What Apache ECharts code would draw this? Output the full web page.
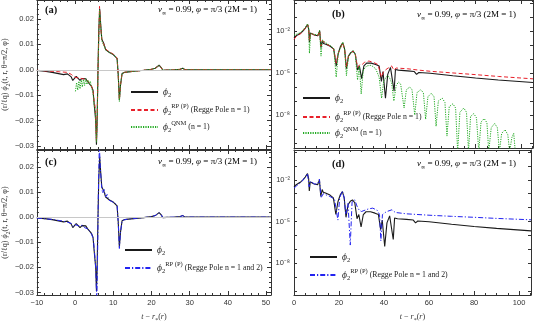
<!DOCTYPE html>
<html><head><meta charset="utf-8">
<script src="https://cdn.jsdelivr.net/npm/echarts@6/dist/echarts.min.js"></script>
<style>html,body{margin:0;padding:0;background:#fff}#c{width:534px;height:325px}</style>
</head><body><div id="c"></div>
<script>
// ---------- DATA ----------
// linear panels (a),(c): [t - r*, (r/lq) phi2]
const phi2Lin = [[-10,-0.0003],[-8,-0.0006],[-6,-0.0010],[-4,-0.0016],[-3,-0.0019],[-2.5,-0.0020],[-2,-0.0016],[-1.5,-0.0017],[-1,-0.0028],[-0.6,-0.0042],[-0.2,-0.0035],[0.3,-0.0026],[0.8,-0.0030],[1.3,-0.0042],[1.8,-0.0034],[2.3,-0.0040],[2.8,-0.0035],[3.3,-0.0047],[3.8,-0.0042],[4.3,-0.0065],[4.7,-0.0080],[5.0,-0.0135],[5.2,-0.0130],[5.4,-0.0200],[5.6,-0.0295],[5.75,-0.022],[6.0,0.0],[6.2,0.015],[6.45,0.0240],[6.7,0.018],[7.0,0.012],[7.5,0.0105],[8.0,0.0080],[8.5,0.0075],[9,0.0068],[9.5,0.0065],[10,0.0060],[10.5,0.0055],[11,0.0045],[11.3,-0.002],[11.6,-0.0120],[11.9,-0.006],[12.3,-0.0015],[13,-0.0010],[14,-0.0008],[16,-0.0005],[18,-0.0002],[20,0.0002],[21,0.0006],[22,0.0018],[22.5,0.0010],[23,-0.0002],[24,-0.0001],[26,0.0],[27.5,0.0002],[28.2,0.0006],[28.8,0.0],[30,0.0],[40,0.0],[51.3,0.0]];
const rp1Lin = [[-10,-0.0002],[-6,-0.0006],[-4,-0.0008],[-2,-0.0010],[-1,-0.0018],[0,-0.0030],[1,-0.0032],[2,-0.0035],[3,-0.0040],[4,-0.0055],[4.7,-0.0080],[5.0,-0.0125],[5.3,-0.0150],[5.6,-0.0280],[5.8,-0.018],[6.0,0.0],[6.4,0.0250],[6.7,0.017],[7.0,0.012],[8,0.0082],[9,0.0070],[10,0.0062],[11,0.0046],[11.3,-0.002],[11.6,-0.0118],[11.9,-0.006],[12.3,-0.0015],[13,-0.0010],[14,-0.0008],[16,-0.0005],[18,-0.0002],[20,0.0002],[21,0.0006],[22,0.0018],[22.5,0.0010],[23,-0.0002],[24,-0.0001],[26,0.0],[27.5,0.0002],[28.2,0.0006],[28.8,0.0],[30,0.0],[40,0.0],[51.3,0.0]];
const qnm1Lin = [[0.1,-0.0085],[0.4,-0.0050],[0.7,-0.0080],[1.0,-0.0045],[1.3,-0.0075],[1.6,-0.0040],[1.9,-0.0068],[2.2,-0.0038],[2.5,-0.0062],[2.8,-0.0035],[3.1,-0.0058],[3.4,-0.0040],[3.7,-0.0055],[4.0,-0.0045],[4.3,-0.0070],[4.7,-0.0090],[5.0,-0.0140],[5.3,-0.0160],[5.6,-0.0285],[5.8,-0.020],[6.0,0.0],[6.4,0.0235],[6.7,0.018],[7.0,0.0115],[8,0.0078],[9,0.0068],[10,0.0060],[11,0.0045],[11.3,-0.002],[11.6,-0.0125],[11.9,-0.006],[12.3,-0.0015],[13,-0.0010],[14,-0.0008],[16,-0.0005],[18,-0.0002],[20,0.0002],[21,0.0006],[22,0.0018],[22.5,0.0010],[23,-0.0002],[24,-0.0001],[26,0.0],[27.5,0.0002],[28.2,0.0006],[28.8,0.0],[30,0.0],[40,0.0],[51.3,0.0]];
const rp12Lin = [[-10,-0.0004],[-6,-0.0009],[-4,-0.0014],[-2.5,-0.0018],[-2,-0.0012],[-1,-0.0025],[-0.5,-0.0038],[0,-0.0030],[0.5,-0.0025],[1,-0.0035],[1.5,-0.0040],[2,-0.0032],[2.5,-0.0042],[3,-0.0036],[3.5,-0.0048],[4,-0.0045],[4.4,-0.0070],[4.8,-0.0090],[5.1,-0.0140],[5.4,-0.0200],[5.7,-0.0340],[5.9,-0.015],[6.1,0.010],[6.35,0.0285],[6.6,0.020],[6.9,0.013],[7.2,0.0095],[7.6,0.0110],[8.0,0.0080],[8.4,0.0090],[8.8,0.0068],[9.2,0.0075],[9.6,0.0062],[10,0.0065],[10.5,0.0055],[11,0.0047],[11.3,-0.002],[11.6,-0.0125],[11.9,-0.006],[12.3,-0.0015],[13,-0.0010],[14,-0.0008],[16,-0.0005],[18,-0.0002],[20,0.0002],[21,0.0006],[22,0.0018],[22.5,0.0010],[23,-0.0002],[24,-0.0001],[26,0.0],[27.5,0.0002],[28.2,0.0006],[28.8,0.0],[30,0.0],[40,0.0],[51.3,0.0]];
// log panels (b),(d): [t - r*, log10 |phi2|]
const phi2Log = [[0,-2.5],[1,-2.35],[2,-2.25],[3,-2.15],[4,-2.0],[5,-1.8],[6,-1.55],[6.5,-1.9],[6.8,-2.8],[7.2,-2.15],[8,-2.2],[9,-2.3],[10.5,-2.35],[11.3,-2.0],[11.9,-3.2],[12.5,-2.7],[13,-2.9],[14,-2.95],[16,-3.1],[17.5,-3.3],[18.6,-4.5],[19.5,-3.6],[20.5,-3.1],[21.5,-2.85],[22.3,-3.3],[23.1,-4.7],[24,-3.8],[25,-3.55],[26,-3.45],[27,-3.65],[28,-4.8],[28.8,-4.5],[29.8,-5.4],[30.8,-4.5],[32,-4.3],[34,-4.3],[36,-4.4],[37.5,-4.5],[38.5,-5.6],[39.2,-4.9],[40.3,-6.8],[41.3,-5.1],[42.5,-4.6],[43.3,-4.55],[44.1,-6.3],[44.7,-4.75],[46,-4.8],[50,-4.85],[53,-4.9],[54,-5.1],[55,-4.97],[60,-5.02],[70,-5.2],[80,-5.36],[90,-5.5],[105.3,-5.68]];
const rp1Log = [[0,-2.6],[1,-2.4],[3,-2.2],[5,-1.8],[6,-1.55],[6.5,-1.9],[6.8,-2.7],[7.2,-2.15],[9,-2.3],[10.5,-2.35],[11.3,-2.0],[11.9,-3.1],[12.5,-2.7],[14,-2.9],[16,-3.1],[17.5,-3.3],[18.6,-4.3],[19.5,-3.6],[21.5,-2.85],[22.3,-3.3],[23.1,-4.6],[24,-3.8],[26,-3.45],[27,-3.65],[28,-4.6],[29,-4.4],[30,-4.4],[31,-4.25],[33,-4.15],[35,-4.25],[37,-4.4],[38.5,-5.3],[39.5,-4.9],[41,-4.7],[43,-4.5],[44,-4.8],[45,-4.65],[50,-4.7],[55,-4.8],[60,-4.88],[70,-5.0],[80,-5.12],[90,-5.25],[105.3,-5.42]];
const qnm1Log = [[0,-2.3],[1,-2.25],[3,-2.1],[5,-1.75],[6,-1.5],[6.5,-1.85],[6.8,-3.6],[7.3,-2.2],[9,-2.25],[10.5,-2.3],[11.3,-1.95],[11.9,-3.8],[12.5,-2.65],[14,-2.85],[16,-3.05],[17.5,-3.25],[18.6,-5.3],[19.5,-3.6],[21.5,-2.8],[22.3,-3.3],[23.1,-5.2],[24,-3.8],[26,-3.4],[27,-3.7],[28,-5.5],[28.8,-4.5],[29.6,-6.5],[30.5,-4.8],[32,-4.5],[34,-4.45],[36,-4.7],[37.5,-5.3],[38.6,-6.8],[39.5,-5.6],[41,-5.2],[42,-5.3],[43,-5.7],[44,-7.0],[45,-5.9],[46,-5.65],[47,-5.8],[48.5,-7.5],[49.5,-6.2],[51,-6.0],[52,-6.2],[53.2,-8.0],[54.2,-6.4],[55.8,-6.2],[57,-6.4],[58,-8.3],[59,-6.7],[60.5,-6.45],[61.7,-6.7],[62.6,-8.8],[63.6,-7.0],[65.3,-6.8],[66.5,-7.1],[67.4,-9.5],[68.4,-7.4],[70,-7.2],[71.2,-7.5],[72.1,-10.6],[73.1,-7.8],[74.8,-7.5],[76,-7.8],[76.9,-10.6],[77.8,-8.1],[79.2,-7.9],[80.4,-8.2],[81.4,-10.6],[82.4,-8.5],[83.8,-8.25],[85,-8.55],[85.8,-10.6],[86.9,-8.9],[88.4,-8.6],[89.6,-8.9],[90.5,-10.6],[91.5,-9.3],[93,-9.05],[94.2,-9.4],[95,-10.6],[96,-9.6],[96.8,-9.3],[97.5,-10.6]];
const rp12Log = [[0,-2.6],[1,-2.45],[3,-2.2],[5,-1.8],[6,-1.55],[6.7,-2.5],[7.5,-2.1],[9,-2.3],[10.5,-2.3],[11.3,-1.95],[12,-3.3],[13,-3.0],[16,-3.2],[18,-3.4],[19.5,-4.9],[20.3,-3.3],[21.5,-2.8],[22.3,-3.3],[23,-4.5],[24,-3.7],[25,-6.7],[25.8,-3.6],[27,-3.44],[28,-3.9],[29,-4.2],[30,-4.28],[33,-4.1],[35,-4.04],[37,-4.2],[38,-4.5],[38.6,-6.4],[39.3,-4.5],[41,-4.3],[43.5,-4.16],[45,-4.35],[50,-4.45],[60,-4.55],[70,-4.63],[80,-4.7],[90,-4.78],[105.3,-4.88]];
// tick labels
const linYTicks = [-0.03,-0.02,-0.01,0,0.01,0.02];
const logYTicks = [-2,-5,-8];
const logYLabels = ['10⁻²','10⁻⁵','10⁻⁸'];

// ---------- CHART ----------
const TICKF = 'Liberation Sans', TXTF = 'Liberation Serif';
const grids = [
  {left:32, top:0, width:239, height:149},
  {left:32, top:150, width:239, height:145},
  {left:294, top:0, width:239, height:148},
  {left:294, top:150, width:239, height:145}
];
const ax = {color:'#333', width:1};
function isMult(v, step){ return Math.abs(v/step - Math.round(v/step)) < 1e-6; }
function minus(s){ return s.replace('-', '−'); }
function xAx(g, pos, min, max, interval, minorSplit, labels){
  return {type:'value', gridIndex:g, position:pos, min, max, interval,
    axisLine:{show:true, onZero:false, lineStyle:ax},
    axisTick:{show:true, inside:true, length:4, lineStyle:ax},
    minorTick:{show:true, splitNumber:minorSplit, length:2, lineStyle:ax},
    splitLine:{show:false},
    axisLabel:{show:labels, fontSize:7.5, color:'#333', fontFamily:TICKF, margin:4,
      formatter:v=> isMult(v, interval) ? minus(String(Math.round(v))) : ''}};
}
function yLin(g, pos, min, max, labels){
  return {type:'value', gridIndex:g, position:pos, min, max, splitNumber:6,
    axisLine:{show:true, onZero:false, lineStyle:ax},
    axisTick:{show:true, inside:true, length:4, lineStyle:ax},
    minorTick:{show:true, splitNumber:5, length:2, lineStyle:ax},
    splitLine:{show:false},
    axisLabel:{show:labels, fontSize:7.5, color:'#333', fontFamily:TICKF, margin:3, showMinLabel:true, showMaxLabel:true,
      formatter:v=>{ const k = linYTicks.findIndex(t=>Math.abs(t-v)<1e-7); return k<0?'':minus(linYTicks[k].toFixed(2)); }}};
}
function yLog(g, pos, min, max, labels){
  return {type:'value', gridIndex:g, position:pos, min, max, splitNumber:10,
    axisLine:{show:true, onZero:false, lineStyle:ax},
    axisTick:{show:true, inside:true, length:3, lineStyle:ax},
    minorTick:{show:false},
    splitLine:{show:false},
    axisLabel:{show:labels, fontSize:7.5, color:'#333', fontFamily:TICKF, margin:4,
      formatter:v=>{ const k = logYTicks.findIndex(t=>Math.abs(t-v)<1e-6); return k<0?'':logYLabels[k]; }}};
}
const xAxis = [
  xAx(0,'bottom',-10,51.3,10,5,false), xAx(0,'top',-10,51.3,10,5,false),
  xAx(1,'bottom',-10,51.3,10,5,true),  xAx(1,'top',-10,51.3,10,5,false),
  xAx(2,'bottom',0,105.3,20,4,false),  xAx(2,'top',0,105.3,20,4,false),
  xAx(3,'bottom',0,105.3,20,4,true),   xAx(3,'top',0,105.3,20,4,false)
];
const yAxis = [
  yLin(0,'left',-0.0312,0.0275,true), yLin(0,'right',-0.0312,0.0275,false),
  yLin(1,'left',-0.031,0.0267,true),  yLin(1,'right',-0.031,0.0267,false),
  yLog(2,'left',-10.35,0.2,true),     yLog(2,'right',-10.35,0.2,false),
  yLog(3,'left',-10.3,0.15,true),     yLog(3,'right',-10.3,0.15,false)
];
const richY = {n:{fontFamily:TXTF,fontSize:8,color:'#333'}, i:{fontFamily:TXTF,fontSize:8,fontStyle:'italic',color:'#333'}, s:{fontFamily:TXTF,fontSize:6,color:'#333',verticalAlign:'bottom',lineHeight:12}};
const yName = '{n|(r/ℓq) }{i|ϕ}{s|2}{n|(t, r, θ=π/2, φ)}';
[0,2].forEach(k=>Object.assign(yAxis[k], {name:yName, nameLocation:'middle', nameGap:21, nameRotate:90, nameTextStyle:{rich:richY}}));
const xName = '{i|t}{n| − }{i|r}{s|*}{n|(}{i|r}{n|)}';
[2,6].forEach(k=>Object.assign(xAxis[k], {name:xName, nameLocation:'middle', nameGap:16, nameTextStyle:{rich:richY}}));

const sty = {
  phi2:{color:'#1a1a1a', width:1.1, type:'solid'},
  rp1:{color:'#e8202a', width:1, type:[4,2.5]},
  qnm1:{color:'#22aa22', width:1, type:[1.2,1.2]},
  rp12:{color:'#2323f0', width:1, type:[5,2,1.2,2]}
};
function ser(name, data, g, z){
  return {type:'line', name, data, xAxisIndex:[0,2,4,6][g], yAxisIndex:[0,2,4,6][g],
    symbol:'none', showSymbol:false, clip:true, z, lineStyle:sty[name], itemStyle:{color:sty[name].color, opacity:0}, animation:false};
}
const zeroLine = g => ({type:'line', name:'zero'+g, data:[], xAxisIndex:[0,2][g], yAxisIndex:[0,2][g], z:1,
  markLine:{silent:true, symbol:'none', animation:false, label:{show:false}, lineStyle:{color:'#c8c8c8', width:1, type:'solid'}, data:[{yAxis:0}]}});
const series = [
  zeroLine(0), zeroLine(1),
  ser('phi2', phi2Lin, 0, 2), ser('rp1', rp1Lin, 0, 3), ser('qnm1', qnm1Lin, 0, 4),
  ser('phi2', phi2Lin, 1, 2), ser('rp12', rp12Lin, 1, 3),
  ser('phi2', phi2Log, 2, 2), ser('rp1', rp1Log, 2, 3), ser('qnm1', qnm1Log, 2, 4),
  ser('phi2', phi2Log, 3, 2), ser('rp12', rp12Log, 3, 3)
];
const legText = {
  phi2:'{i|ϕ}{sb|2}',
  rp1:'{i|ϕ}{sb|2}{sp|RP (P)}{n| (Regge Pole n = 1)}',
  qnm1:'{i|ϕ}{sb|2}{sp|QNM}{n| (n = 1)}',
  rp12:'{i|ϕ}{sb|2}{sp|RP (P)}{n| (Regge Pole n = 1 and 2)}'
};
const richL = {n:{fontFamily:TXTF,fontSize:7.8,color:'#222',lineHeight:14}, i:{fontFamily:TXTF,fontSize:9.5,fontStyle:'italic',color:'#222',lineHeight:14},
  sb:{fontFamily:TXTF,fontSize:6.5,color:'#222',verticalAlign:'bottom',lineHeight:14}, sp:{fontFamily:TXTF,fontSize:6.5,color:'#222',verticalAlign:'top',lineHeight:14}};
function leg(name, x, cy){
  return {show:true, data:[name], left:x, top:cy-7, orient:'vertical', padding:0, itemWidth:27, itemHeight:8, itemGap:0,
    selectedMode:false, formatter:n=>legText[n], textStyle:{rich:richL, padding:[0,0,0,0]}};
}
const legend = [
  leg('phi2',130,94), leg('rp1',130,110), leg('qnm1',130,127),
  leg('phi2',302,100), leg('rp1',302,117), leg('qnm1',302,133),
  leg('phi2',124,252), leg('rp12',124,268),
  leg('phi2',309,259), leg('rp12',309,275)
];
const richA = {n:{fontFamily:TXTF,fontSize:9,color:'#222'}, i:{fontFamily:TXTF,fontSize:9,fontStyle:'italic',color:'#222'}, s:{fontFamily:TXTF,fontSize:6,color:'#222',verticalAlign:'bottom',lineHeight:13}};
const annot = '{i|v}{s|∞}{n| = 0.99, }{i|φ}{n| = π/3 (2M = 1)}';
const graphic = [
  {type:'text', x:45, y:10, style:{text:'(a)', font:'bold 10.5px "Liberation Serif"', fill:'#111', align:'left', verticalAlign:'middle'}},
  {type:'text', x:332, y:14, style:{text:'(b)', font:'bold 10.5px "Liberation Serif"', fill:'#111', align:'left', verticalAlign:'middle'}},
  {type:'text', x:45, y:162, style:{text:'(c)', font:'bold 10.5px "Liberation Serif"', fill:'#111', align:'left', verticalAlign:'middle'}},
  {type:'text', x:332, y:164, style:{text:'(d)', font:'bold 10.5px "Liberation Serif"', fill:'#111', align:'left', verticalAlign:'middle'}},
  {type:'text', x:257, y:10, style:{text:annot, rich:richA, align:'right', verticalAlign:'middle'}},
  {type:'text', x:516, y:15, style:{text:annot, rich:richA, align:'right', verticalAlign:'middle'}},
  {type:'text', x:257, y:162, style:{text:annot, rich:richA, align:'right', verticalAlign:'middle'}},
  {type:'text', x:516, y:164, style:{text:annot, rich:richA, align:'right', verticalAlign:'middle'}}
];
const chart = echarts.init(document.getElementById('c'), null, {renderer:'canvas'});
chart.setOption({animation:false, backgroundColor:'#fff', grid:grids, xAxis, yAxis, series, legend, graphic});
</script></body></html>
